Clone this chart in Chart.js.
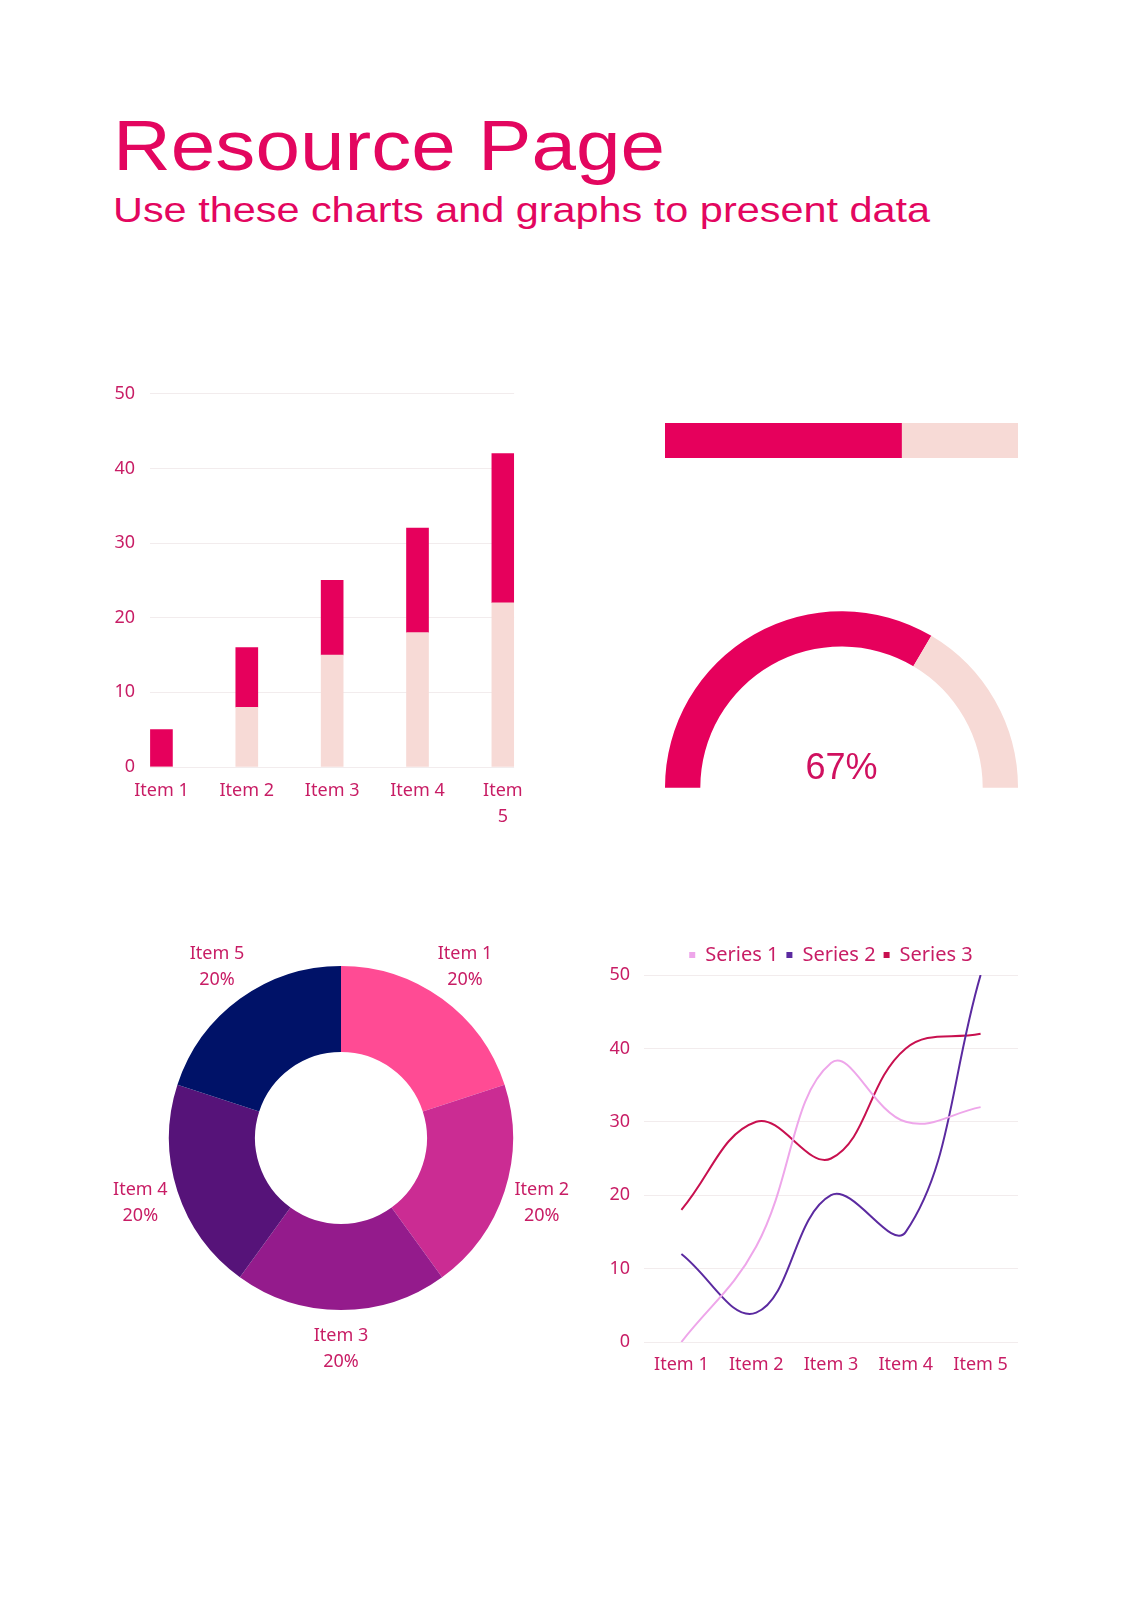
<!DOCTYPE html>
<html>
<head>
<meta charset="utf-8">
<title>Resource Page</title>
<script src="https://cdn.jsdelivr.net/npm/chart.js@4.4.0/dist/chart.umd.min.js"></script>
<style>
  html, body { margin: 0; padding: 0; background: #fff; }
  body { width: 1131px; height: 1600px; position: relative; overflow: hidden; }
  .title, .subtitle {
    position: absolute; left: 113px; margin: 0; white-space: nowrap;
    font-family: 'Liberation Sans', Arial, sans-serif; font-weight: normal;
    color: #e3065f; line-height: 1; transform-origin: left top;
  }
  .title { top: 111px; font-size: 70px; }
  .subtitle { top: 192px; font-size: 35px; }
  canvas { position: absolute; }
</style>
</head>
<body>
<h1 class="title" id="title" data-w="552">Resource Page</h1>
<div class="subtitle" id="subtitle" data-w="817">Use these charts and graphs to present data</div>

<canvas id="bars" width="430" height="464" style="left:96px;top:368px"></canvas>
<canvas id="progress" width="353" height="35" style="left:665px;top:423px"></canvas>
<canvas id="gauge" width="353" height="177" style="left:665px;top:611px"></canvas>
<canvas id="donut" width="470" height="480" style="left:100px;top:915px"></canvas>
<canvas id="lines" width="465" height="458" style="left:590px;top:927px"></canvas>

<script>
// data
const barLabels = ['Item 1', 'Item 2', 'Item 3', 'Item 4', ['Item', '5']];
const barLower = [0, 8, 15, 18, 22];
const barUpper = [5, 8, 10, 14, 20];

const progressValue = [67];
const progressRest = [33];

const gaugeValues = [67, 33];

const donutLabels = ['Item 1', 'Item 2', 'Item 3', 'Item 4', 'Item 5'];
const donutValues = [20, 20, 20, 20, 20];

const lineLabels = ['Item 1', 'Item 2', 'Item 3', 'Item 4', 'Item 5'];
const series1 = [0, 13, 38, 30, 32];
const series2 = [12, 4, 20, 15, 50];
const series3 = [18, 30, 25, 40, 42];

const yTicks = [0, 10, 20, 30, 40, 50];

// colours
const pinkDark = '#e6005c';
const pinkLight = '#f7dad6';
const labelColor = '#c81d65';
const gridColor = '#f2eced';

// stretch the heading text to the width it has in the reference
['title', 'subtitle'].forEach(function (id) {
    const el = document.getElementById(id);
    const target = parseFloat(el.dataset.w);
    const w = el.getBoundingClientRect().width;
    el.style.transform = 'scaleX(' + (target / w).toFixed(4) + ')';
});

Chart.defaults.font.family = "'Noto Sans', sans-serif";
Chart.defaults.font.size = 18;
Chart.defaults.color = labelColor;
Chart.defaults.animation = false;
Chart.defaults.responsive = false;
Chart.defaults.plugins.tooltip.enabled = false;
Chart.defaults.plugins.legend.display = false;

// stacked bars
new Chart(document.getElementById('bars'), {
    type: 'bar',
    data: {
        datasets: [
            {
                data: barLower.map((v, i) => ({ x: i + 1, y: v })),
                backgroundColor: pinkLight,
                barThickness: 22
            },
            {
                data: barUpper.map((v, i) => ({ x: i + 1, y: v })),
                backgroundColor: pinkDark,
                barThickness: 22
            }
        ]
    },
    options: {
        layout: { padding: { top: 20, right: 11, left: 0, bottom: 0 } },
        scales: {
            x: {
                type: 'linear',
                stacked: true,
                offset: false,
                min: 0.866,
                max: 5.132,
                grid: { display: false, offset: false },
                border: { display: false },
                ticks: {
                    stepSize: 1,
                    includeBounds: false,
                    autoSkip: false,
                    maxRotation: 0,
                    padding: 3,
                    font: { lineHeight: 1.45 },
                    callback: v => Number.isInteger(v) ? barLabels[v - 1] : ''
                },
                afterFit: s => { s.height = 65; }
            },
            y: {
                stacked: true,
                min: yTicks[0],
                max: yTicks[yTicks.length - 1],
                grid: { color: gridColor, drawTicks: false },
                border: { display: false },
                ticks: { stepSize: 10, padding: 15 },
                afterFit: s => { s.width = 54; }
            }
        }
    }
});

// progress bar
new Chart(document.getElementById('progress'), {
    type: 'bar',
    data: {
        labels: [''],
        datasets: [
            { data: progressValue, backgroundColor: pinkDark },
            { data: progressRest, backgroundColor: pinkLight }
        ]
    },
    options: {
        indexAxis: 'y',
        layout: { padding: 0 },
        barPercentage: 1,
        categoryPercentage: 1,
        scales: {
            x: { stacked: true, min: 0, max: 100, display: false },
            y: { stacked: true, display: false }
        }
    }
});

// half gauge
const gaugeText = {
    id: 'gaugeText',
    afterDraw(chart) {
        const arc = chart.getDatasetMeta(0).data[0];
        const ctx = chart.ctx;
        ctx.save();
        ctx.font = "36px 'Liberation Sans', Arial, sans-serif";
        ctx.fillStyle = '#d0105f';
        ctx.textAlign = 'center';
        ctx.textBaseline = 'alphabetic';
        ctx.fillText(gaugeValues[0] + '%', arc.x, arc.y - 9);
        ctx.restore();
    }
};

new Chart(document.getElementById('gauge'), {
    type: 'doughnut',
    data: {
        labels: ['Value', 'Rest'],
        datasets: [{
            data: gaugeValues,
            backgroundColor: [pinkDark, pinkLight],
            borderWidth: 0
        }]
    },
    options: {
        rotation: -90,
        circumference: 180,
        cutout: '80%',
        layout: { padding: 0 }
    },
    plugins: [gaugeText]
});

// donut with outside labels
const donutLabelPlugin = {
    id: 'donutLabels',
    afterDraw(chart) {
        const ctx = chart.ctx;
        const meta = chart.getDatasetMeta(0);
        const total = donutValues.reduce((a, b) => a + b, 0);
        ctx.save();
        ctx.font = "18px 'Noto Sans', sans-serif";
        ctx.fillStyle = labelColor;
        ctx.textAlign = 'center';
        ctx.textBaseline = 'middle';
        meta.data.forEach((arc, i) => {
            const p = arc.getProps(['x', 'y', 'startAngle', 'endAngle', 'outerRadius']);
            const a = (p.startAngle + p.endAngle) / 2;
            const r = p.outerRadius + 39;
            const x = p.x + Math.cos(a) * r;
            const y = p.y + Math.sin(a) * r;
            ctx.fillText(donutLabels[i], x, y - 13);
            ctx.fillText(Math.round(donutValues[i] / total * 100) + '%', x, y + 13);
        });
        ctx.restore();
    }
};

new Chart(document.getElementById('donut'), {
    type: 'doughnut',
    data: {
        labels: donutLabels,
        datasets: [{
            data: donutValues,
            backgroundColor: ['#ff4b94', '#cb2c93', '#941b8c', '#561379', '#001268'],
            borderWidth: 0
        }]
    },
    options: {
        cutout: '50%',
        layout: { padding: { left: 69, right: 57, top: 51, bottom: 85 } }
    },
    plugins: [donutLabelPlugin]
});

// smooth lines
const lineColors = ['#eea6ea', '#5b2aa0', '#c8104f'];

new Chart(document.getElementById('lines'), {
    type: 'line',
    data: {
        labels: lineLabels,
        datasets: [
            { label: 'Series 1', data: series1 },
            { label: 'Series 2', data: series2 },
            { label: 'Series 3', data: series3 }
        ].map((d, i) => Object.assign(d, {
            borderColor: lineColors[i],
            backgroundColor: lineColors[i],
            borderWidth: 2,
            pointRadius: 0,
            tension: 0.4,
            fill: false
        }))
    },
    options: {
        layout: { padding: { top: 10, right: 37, left: 0, bottom: 0 } },
        plugins: {
            legend: {
                display: true,
                fullSize: false,
                labels: {
                    boxWidth: 6,
                    boxHeight: 6,
                    padding: 8,
                    color: labelColor,
                    font: { size: 20 },
                    generateLabels(chart) {
                        const items = Chart.defaults.plugins.legend.labels.generateLabels(chart);
                        items.forEach(it => { it.lineWidth = 0; it.fillStyle = it.strokeStyle; });
                        return items;
                    }
                }
            }
        },
        scales: {
            x: {
                offset: true,
                grid: { display: false },
                border: { display: false },
                ticks: { padding: 4, maxRotation: 0 },
                afterFit: s => { s.height = 43; }
            },
            y: {
                min: yTicks[0],
                max: yTicks[yTicks.length - 1],
                grid: { color: gridColor, drawTicks: false },
                border: { display: false },
                ticks: { stepSize: 10, padding: 14 },
                afterFit: s => { s.width = 54; }
            }
        }
    }
});
</script>
</body>
</html>
